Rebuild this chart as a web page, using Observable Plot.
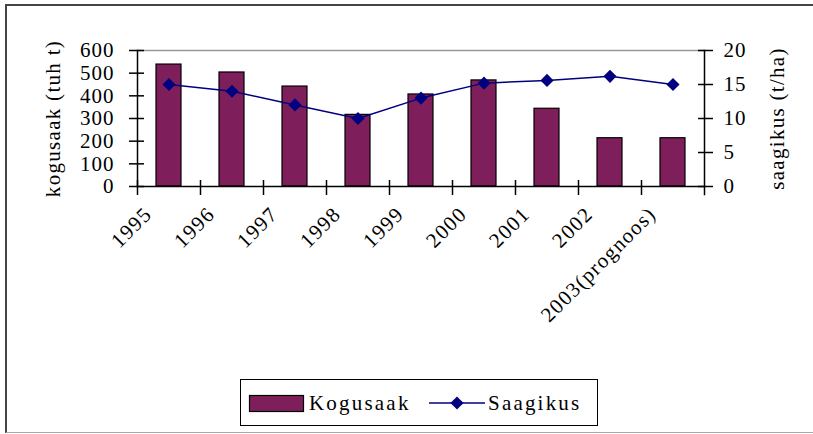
<!DOCTYPE html>
<html>
<head>
<meta charset="utf-8">
<script src="https://cdn.jsdelivr.net/npm/d3@7"></script>
<script src="https://cdn.jsdelivr.net/npm/@observablehq/plot@0.6"></script>
<style>
  body { margin: 0; background: #fff; }
  #wrap { position: relative; width: 813px; height: 434px; overflow: hidden; font-family: "Liberation Serif", serif; }
  #border { position: absolute; left: 5px; top: 4px; width: 808px; height: 429px; border-left: 2px solid #444; border-top: 2px solid #444; border-bottom: 1px solid #aaa; box-sizing: border-box; }
  #chart { position: absolute; left: 0; top: 0; }
  #legend { position: absolute; left: 240px; top: 379px; width: 358px; height: 47px; border: 1.5px solid #000; box-sizing: border-box; background: #fff; }
</style>
</head>
<body>
<div id="wrap">
  <div id="border"></div>
  <div id="chart"></div>
  <div id="legend"></div>
</div>
<script>
// ---- data ----
const years = ["1995", "1996", "1997", "1998", "1999", "2000", "2001", "2002", "2003(prognoos)"];
const totalHarvest = [538, 503, 441, 316, 406, 468, 343, 213, 213];      // kogusaak (tuh t)
const yieldPerHa = [15, 14, 12, 10, 13, 15.2, 15.6, 16.2, 15];           // saagikus (t/ha)
const leftTicks = [0, 100, 200, 300, 400, 500, 600];
const rightTicks = [0, 5, 10, 15, 20];
const leftTitle = "kogusaak (tuh t)";
const rightTitle = "saagikus (t/ha)";
const seriesNames = ["Kogusaak", "Saagikus"];

const barColor = "#7E1F5B";
const lineColor = "#000080";
const ratio = leftTicks[leftTicks.length - 1] / rightTicks[rightTicks.length - 1];

const rows = years.map((year, i) => ({ year, total: totalHarvest[i], yld: yieldPerHa[i] }));

const chart = Plot.plot({
  width: 813,
  height: 434,
  marginLeft: 137,
  marginRight: 109,
  marginTop: 50,
  marginBottom: 248,
  style: {
    fontFamily: '"Liberation Serif", serif',
    fontSize: "21px",
    letterSpacing: "1px",
    color: "#000",
    background: "transparent",
    overflow: "visible"
  },
  x: { type: "band", domain: years, padding: 0 },
  y: { domain: [0, 600] },
  marks: [
    Plot.ruleY([600], { stroke: "#999", strokeWidth: 1.5 }),
    Plot.barY(rows, { x: "year", y: "total", fill: barColor, stroke: "#000", strokeWidth: 1.2, insetLeft: 19, insetRight: 19 }),
    Plot.line(rows, { x: "year", y: d => d.yld * ratio, stroke: lineColor, strokeWidth: 1.5 }),
    Plot.dot(rows, { x: "year", y: d => d.yld * ratio, symbol: "diamond2", r: 5.9, fill: lineColor, stroke: "none" }),
    Plot.frame({ anchor: "left", stroke: "#000", strokeWidth: 1.5 }),
    Plot.frame({ anchor: "right", stroke: "#000", strokeWidth: 1.5, insetBottom: -8 }),
    Plot.frame({ anchor: "bottom", stroke: "#000", strokeWidth: 1.5 }),
    Plot.axisX({ tickSize: 15, dx: -31.5, dy: -6, tickFormat: () => "", label: null, strokeWidth: 1.5 }),
    Plot.axisY({ anchor: "left", ticks: leftTicks, tickSize: 15, dx: 7, tickPadding: 15, label: null, strokeWidth: 1.5 }),
    Plot.axisY({ anchor: "right", ticks: rightTicks.map(v => v * ratio), tickFormat: v => v / ratio, tickSize: 15, dx: -7, tickPadding: 11, label: null, strokeWidth: 1.5 }),
    Plot.text(years, { x: d => d, frameAnchor: "bottom", rotate: -45, textAnchor: "end", lineAnchor: "bottom", dx: -16, dy: 29 }),
    Plot.text([leftTitle], { frameAnchor: "left", textAnchor: "middle", lineAnchor: "middle", dx: -84, rotate: -90 }),
    Plot.text([rightTitle], { frameAnchor: "right", textAnchor: "middle", lineAnchor: "middle", dx: 73, rotate: -90 })
  ]
});
document.getElementById("chart").appendChild(chart);

// spacing of the non-numeric texts
d3.select(chart).selectAll('g[aria-label="text"] text').style("letter-spacing", "1.3px");

// ---- legend ----
const lg = d3.select("#legend").append("svg")
  .attr("width", 355).attr("height", 44)
  .style("font-family", '"Liberation Serif", serif')
  .style("font-size", "21px")
  .style("letter-spacing", "2.2px");
lg.append("rect").attr("x", 8.5).attr("y", 15.5).attr("width", 54).attr("height", 16)
  .attr("fill", barColor).attr("stroke", "#000").attr("stroke-width", 1.2);
lg.append("text").attr("x", 68).attr("y", 30).text(seriesNames[0]);
lg.append("line").attr("x1", 188).attr("x2", 244).attr("y1", 23).attr("y2", 23)
  .attr("stroke", lineColor).attr("stroke-width", 1.5);
lg.append("path").attr("d", d3.symbol(d3.symbolDiamond2, Math.PI * 5.9 * 5.9)()).attr("transform", "translate(216,23)")
  .attr("fill", lineColor);
lg.append("text").attr("x", 247).attr("y", 30).text(seriesNames[1]);
</script>
</body>
</html>
